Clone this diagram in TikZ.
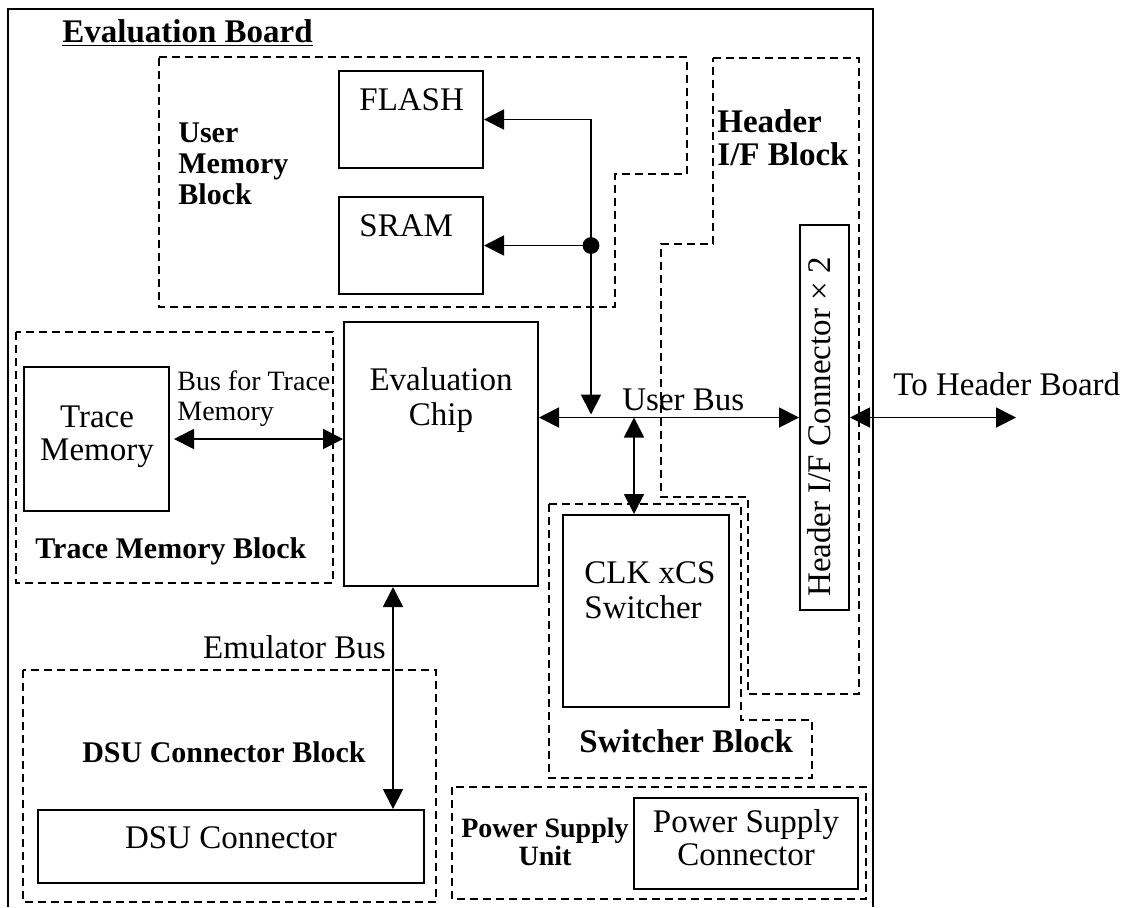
\documentclass[tikz,border=0pt]{standalone}
\usepackage{fontspec}
\setmainfont{Liberation Serif}
\usetikzlibrary{arrows.meta,fit}
\begin{document}
\begin{tikzpicture}[x=0.5pt,y=-0.5pt]
  \tikzstyle{box} = [draw=black, line width=1pt, inner sep=0pt]
  \tikzstyle{dblk} = [draw=black, line width=0.9pt, dash pattern=on 4pt off 2.5pt]
  \tikzstyle{arr} = [line width=0.9pt, -{Triangle[length=10pt,width=10pt]}]
  \tikzstyle{darr} = [line width=0.9pt, {Triangle[length=10pt,width=10pt]}-{Triangle[length=10pt,width=10pt]}]
  \tikzstyle{txt} = [inner sep=0pt, font=\fontsize{16.5}{19}\selectfont]
  \tikzstyle{stxt} = [inner sep=0pt, font=\fontsize{14}{16}\selectfont]
  \tikzstyle{btxt} = [inner sep=0pt, font=\bfseries\fontsize{15}{18}\selectfont]
  \tikzstyle{bbig} = [inner sep=0pt, font=\bfseries\fontsize{16.5}{19}\selectfont]
  \useasboundingbox (0,0) rectangle (1127,907);

  % board outline
  \draw[line width=0.9pt] (8,907) -- (8,9) -- (873,9) -- (873,907);
  \node[bbig, anchor=base west] (title) at (62,42) {\underline{Evaluation Board}};

  % dashed blocks
  \draw[dblk] (159,57) -- (687,57) -- (687,174) -- (615,174) -- (615,307) -- (159,307) -- cycle;
  \draw[dblk] (713,58) -- (859,58) -- (859,694) -- (748,694) -- (748,497) -- (661,497) -- (661,244) -- (713,244) -- cycle;
  \draw[dblk] (16,332) rectangle (333,583);
  \draw[dblk] (549,504) -- (741,504) -- (741,720) -- (812,720) -- (812,778) -- (549,778) -- cycle;
  \draw[dblk] (23,670) rectangle (436,902);
  \draw[dblk] (452,787) rectangle (866,899);

  % boxes
  \node[box, fit={(339,71) (483,168)}] (flash) {};
  \node[box, fit={(339,197) (483,294)}] (sram) {};
  \node[box, fit={(800,225) (849,610)}] (hdrc) {};
  \node[box, fit={(24,367) (169,511)}] (trace) {};
  \node[box, fit={(344,322) (538,586)}] (chip) {};
  \node[box, fit={(563,515) (729,707)}] (clk) {};
  \node[box, fit={(634,798) (858,889)}] (psc) {};
  \node[box, fit={(38,810) (424,883)}] (dsu) {};

  % texts
  \node[btxt, anchor=base west] (umb1) at (178,142) {User};
  \node[btxt, anchor=base west] (umb2) at (178,173) {Memory};
  \node[btxt, anchor=base west] (umb3) at (178,204) {Block};
  \node[txt, anchor=base west] (flasht) at (359,110) {FLASH};
  \node[txt, anchor=base west] (sramt) at (359,236) {SRAM};
  \node[bbig, anchor=base west] (hib1) at (717,132) {Header};
  \node[bbig, anchor=base west] (hib2) at (717,165) {I/F Block};
  \node[txt, rotate=90, anchor=base] (hdrct) at (830,427) {Header I/F Connector × 2};
  \node[txt, anchor=base west] (ubus) at (622,410) {User Bus};
  \node[txt, anchor=base] (trace1) at (97,427) {Trace};
  \node[txt, anchor=base] (trace2) at (97,460) {Memory};
  \node[stxt, anchor=base west] (tbus1) at (177,390) {Bus for Trace};
  \node[stxt, anchor=base west] (tbus2) at (177,420) {Memory};
  \node[btxt, anchor=base west] (tmb) at (35,558) {Trace Memory Block};
  \node[txt, anchor=base] (chip1) at (441,390) {Evaluation};
  \node[txt, anchor=base] (chip2) at (441,425) {Chip};
  \node[txt, anchor=base east] (ebus) at (386,658) {Emulator Bus};
  \node[btxt, anchor=base] (dsub) at (224,762) {DSU Connector Block};
  \node[txt, anchor=base] (dsut) at (231,848) {DSU Connector};
  \node[txt, anchor=base west] (clk1) at (584,583) {CLK xCS};
  \node[txt, anchor=base west] (clk2) at (584,618) {Switcher};
  \node[bbig, anchor=base west] (swb) at (579,752) {Switcher Block};
  \node[btxt, font=\bfseries\fontsize{14}{16}\selectfont, anchor=base] (psu1) at (545,837) {Power Supply};
  \node[btxt, font=\bfseries\fontsize{14}{16}\selectfont, anchor=base] (psu2) at (545,865) {Unit};
  \node[txt, anchor=base] (psc1) at (746,832) {Power Supply};
  \node[txt, anchor=base] (psc2) at (746,865) {Connector};
  \node[txt, anchor=base west] (thbt) at (893,395) {To Header Board};

  % connectors
  \coordinate (jn) at (591,245.5);
  \coordinate (sw) at (634,417.5);
  \coordinate (em) at (393,600);
  \coordinate (thb) at (1016,417.5);
  \fill (jn) circle (4.2pt);
  \draw[arr] (jn) |- (flash.east);
  \draw[arr] (jn) -- (sram.east);
  \draw[arr, shorten >=1.5pt] (jn) -- (jn |- hdrc.west);
  \draw[darr] (chip.east |- hdrc.west) -- (hdrc.west);
  \draw[darr] (sw) -- (sw |- clk.north);
  \draw[darr, shorten <=2pt] (trace.east) -- (trace.east -| chip.west);
  \draw[darr] (em |- chip.south) -- (em |- dsu.north);
  \draw[darr] (hdrc.east) -- (thb);
\end{tikzpicture}
\end{document}
